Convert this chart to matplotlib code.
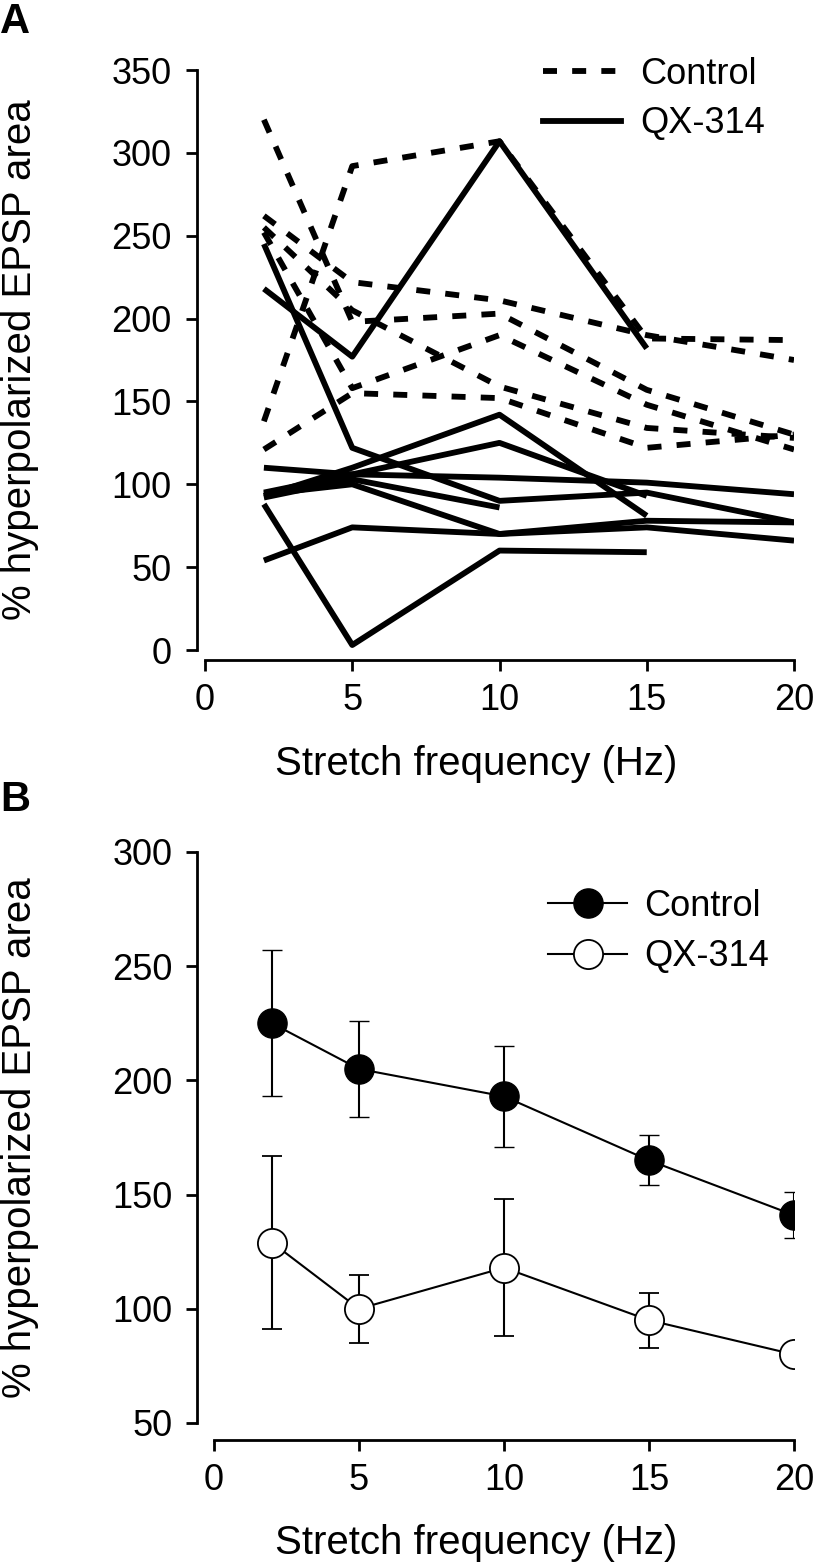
import numpy as np
import matplotlib
matplotlib.use("Agg")
import matplotlib.pyplot as plt

plt.rcParams['font.family'] = ['Liberation Sans', 'DejaVu Sans']

# panel A: individual preparations
freq = [2, 5, 10, 15, 20]
control_lines = [
    [138, 292, 307, 188, 187],
    [320, 198, 203, 157, 130],
    [262, 222, 211, 190, 175],
    [255, 205, 159, 134, 128],
    [252, 158, 190, 148, 121],
    [121, 155, 152, 122, 130],
]
qx_lines = [
    [245, 122, 90, 95, 77],
    [218, 177, 307, 182, None],
    [88, 3, 60, 59, None],
    [54, 74, 70, 74, 66],
    [110, 106, 104, 101, 94],
    [93, 110, 142, 81, None],
    [95, 106, 125, 93, None],
    [92, 103, 86, None, None],
    [94, 100, 70, 78, 77],
]

# panel B: means +/- sem
ctrl_mean = [225, 205, 193, 165, 141]
ctrl_err = [32, 21, 22, 11, 10]
qx_mean = [129, 100, 118, 95, 80]
qx_err = [38, 15, 30, 12, 4]

W, H = 814, 1565
fig = plt.figure(figsize=(W / 100, H / 100), dpi=100)

def place(x0, x1, y0, y1):
    return fig.add_axes([x0 / W, 1 - y1 / H, (x1 - x0) / W, (y1 - y0) / H])

fs = 29
tfs = 26
lfs = 26
dash = (0, (2.4, 2.6))

# ---------- A ----------
ax = place(205, 794, 70, 650)
for row in control_lines:
    xs = [f for f, v in zip(freq, row) if v is not None]
    ys = [v for v in row if v is not None]
    ax.plot(xs, ys, color='black', lw=4.2, linestyle=dash)
for row in qx_lines:
    xs = [f for f, v in zip(freq, row) if v is not None]
    ys = [v for v in row if v is not None]
    ax.plot(xs, ys, color='black', lw=4.2, solid_capstyle='butt')
hc, = ax.plot([], [], color='black', lw=4.2, linestyle=dash)
hq, = ax.plot([], [], color='black', lw=4.2)
fig.legend([hc, hq], ['Control', 'QX-314'], loc='upper left',
           bbox_to_anchor=(543 / W, 1 - 57 / H), bbox_transform=fig.transFigure,
           frameon=False, fontsize=lfs, borderpad=0, borderaxespad=0,
           handlelength=2.15, handletextpad=0.55, labelspacing=0.4)
ax.set_xlim(0, 20)
ax.set_ylim(0, 350)
ax.set_xticks([0, 5, 10, 15, 20])
ax.set_yticks(range(0, 351, 50))
ax.set_xlabel('Stretch frequency (Hz)', fontsize=fs)
ax.set_ylabel('% hyperpolarized EPSP area', fontsize=fs)
ax.yaxis.set_label_coords(-0.282, 0.5)
ax.xaxis.set_label_coords(0.46, -0.163)
ax.spines['left'].set_position(('outward', 6))
ax.spines['bottom'].set_position(('outward', 7))
ax.spines['left'].set_bounds(0, 350)
ax.spines['bottom'].set_bounds(0, 20)
fig.text(0.0, 1 - 22 / H, 'A', fontsize=30, fontweight='bold', va='center')

# ---------- B ----------
bx = place(214, 794, 852, 1423)
bx.errorbar(freq, ctrl_mean, yerr=ctrl_err, color='black', lw=1.5, marker='o',
            ms=21, mfc='black', mec='black', capsize=7, elinewidth=1.5)
bx.errorbar(freq, qx_mean, yerr=qx_err, color='black', lw=1.5, marker='o',
            ms=21, mfc='white', mec='black', mew=1.3, capsize=7, elinewidth=1.5)
pc, = bx.plot([], [], color='black', lw=1.5, marker='o', ms=21, mfc='black', mec='black')
pq, = bx.plot([], [], color='black', lw=1.5, marker='o', ms=21, mfc='white', mec='black', mew=1.3)
fig.legend([pc, pq], ['Control', 'QX-314'], loc='upper left',
           bbox_to_anchor=(548 / W, 1 - 889 / H), bbox_transform=fig.transFigure,
           frameon=False, fontsize=lfs, borderpad=0, borderaxespad=0,
           handlelength=2.2, handletextpad=0.47, labelspacing=0.42)
bx.set_xlim(0, 20)
bx.set_ylim(50, 300)
bx.set_xticks([0, 5, 10, 15, 20])
bx.set_yticks(range(50, 301, 50))
bx.set_xlabel('Stretch frequency (Hz)', fontsize=fs)
bx.set_ylabel('% hyperpolarized EPSP area', fontsize=fs)
bx.yaxis.set_label_coords(-0.302, 0.5)
bx.xaxis.set_label_coords(0.452, -0.177)
bx.spines['left'].set_position(('outward', 12))
bx.spines['bottom'].set_position(('outward', 12))
bx.spines['left'].set_bounds(50, 300)
bx.spines['bottom'].set_bounds(0, 20)
fig.text(0.0, 1 - 800 / H, 'B', fontsize=30, fontweight='bold', va='center')

for a in (ax, bx):
    a.spines['top'].set_visible(False)
    a.spines['right'].set_visible(False)
    a.spines['left'].set_linewidth(2)
    a.spines['bottom'].set_linewidth(2)
    a.tick_params(width=2, length=8, labelsize=tfs)
    a.tick_params(axis='y', pad=10)
    a.tick_params(axis='x', pad=9)

fig.savefig('out.png', dpi=100)
